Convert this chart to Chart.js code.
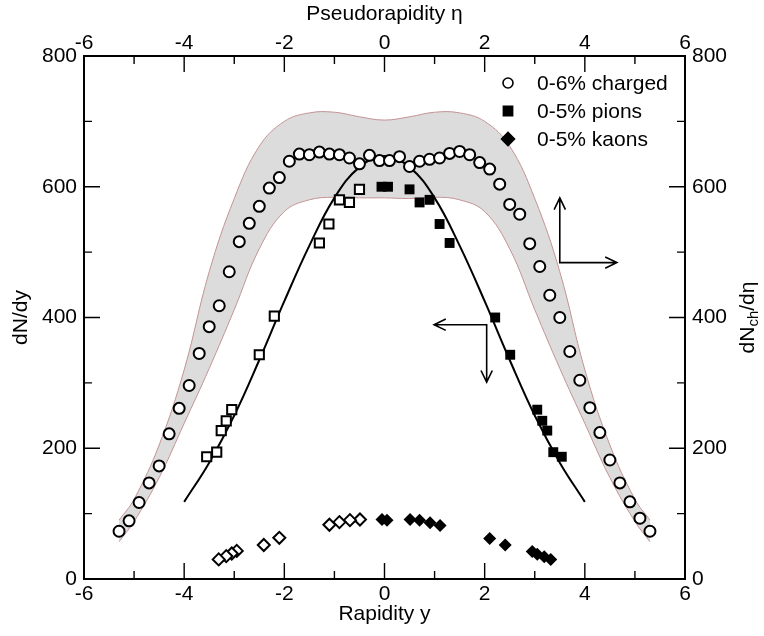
<!DOCTYPE html>
<html>
<head>
<meta charset="utf-8">
<script src="https://cdn.jsdelivr.net/npm/chart.js@4/dist/chart.umd.min.js"></script>
<style>
  html, body { margin: 0; padding: 0; background: #fff; }
  #wrap { width: 764px; height: 636px; position: relative; }
</style>
</head>
<body>
<div id="wrap"><canvas id="c"></canvas></div>
<script>
// --- dados ---
// carregados (0-6%), em pseudorapidez eta
const chargedEta = [-5.3, -5.1, -4.9, -4.7, -4.5, -4.3, -4.1, -3.9, -3.7, -3.5, -3.3, -3.1, -2.9, -2.7, -2.5, -2.3, -2.1, -1.9, -1.7, -1.5, -1.3, -1.1, -0.9, -0.7, -0.5, -0.3, -0.1,
                    0.1, 0.3, 0.5, 0.7, 0.9, 1.1, 1.3, 1.5, 1.7, 1.9, 2.1, 2.3, 2.5, 2.7, 2.9, 3.1, 3.3, 3.5, 3.7, 3.9, 4.1, 4.3, 4.5, 4.7, 4.9, 5.1, 5.3];
const chargedVal = [73, 89, 117, 147, 173, 222, 261, 296, 345, 386, 418, 470, 516, 544, 570, 598, 614, 639, 650, 649, 653, 650, 649, 644, 635, 648, 640,
                    640, 646, 631, 639, 642, 644, 651, 654, 649, 637, 627, 604, 573, 558, 513, 478, 434, 400, 348, 304, 262, 224, 182, 147, 118, 93, 73];

// faixa de incerteza (cinza)
const bandEta   = [-5.3, -5, -4.5, -4, -3.5, -3, -2.5, -2, -1.5, -1, -0.5, 0, 0.5, 1, 1.5, 2, 2.5, 3, 3.5, 4, 4.5, 5, 5.3];
const bandUpper = [90, 122, 205, 320, 470, 582, 662, 700, 713, 714, 707, 702, 707, 714, 713, 700, 662, 582, 470, 320, 205, 122, 90];
const bandLower = [57, 88, 155, 238, 322, 412, 505, 562, 580, 584, 583, 583, 582, 584, 580, 562, 505, 412, 322, 238, 155, 88, 57];

// píons 0-5% (cheios = medidos, vazios = refletidos)
const pionY      = [-0.06, 0.07, 0.5, 0.7, 0.9, 1.1, 1.3, 2.21, 2.51, 3.05, 3.15, 3.25, 3.37, 3.54];
const pionVal    = [600, 600, 596, 576, 580, 543, 514, 400, 343, 259, 242, 227, 194, 187];
const pionRefY   = [-0.5, -0.7, -0.9, -1.11, -1.3, -2.2, -2.5, -3.05, -3.16, -3.26, -3.35, -3.55];
const pionRefVal = [596, 576, 580, 543, 514, 402, 343, 259, 242, 227, 194, 187];

// káons 0-5%
const kaonY      = [-0.05, 0.05, 0.51, 0.7, 0.91, 1.11, 2.1, 2.41, 2.95, 3.05, 3.19, 3.32];
const kaonVal    = [91, 90, 91, 90, 86, 82, 62, 52, 42, 38, 34, 30];
const kaonRefY   = [-0.49, -0.69, -0.9, -1.1, -2.1, -2.41, -2.95, -3.05, -3.16, -3.31];
const kaonRefVal = [91, 90, 87, 83, 63, 52, 43, 39, 35, 30];

// ajuste gaussiano (linha preta)
const fitY   = [-4, -3.5, -3, -2.5, -2, -1.5, -1, -0.5, 0, 0.5, 1, 1.5, 2, 2.5, 3, 3.5, 4];
const fitVal = [118, 178, 250, 335, 425, 510, 583, 630, 647, 630, 583, 510, 425, 335, 250, 178, 118];

// eixos
const xMajor = [-6, -4, -2, 0, 2, 4, 6];
const xMinor = [-5, -3, -1, 1, 3, 5];
const yMajor = [0, 200, 400, 600, 800];
const yMinor = [100, 300, 500, 700];

// setas indicando qual eixo vale pra cada curva (coordenadas de dados)
const arrowRightAxis = [[3.5, 583], [3.5, 484], [4.64, 484]];
const arrowLeftAxis  = [[0.99, 389], [2.04, 389], [2.04, 301]];

const FONT = "'Liberation Sans', Arial, sans-serif";
const FS = 21;

function pts(xs, ys) { return xs.map((x, i) => ({ x, y: ys[i] })); }

// ticks pra dentro nos quatro lados
const insideTicks = {
  id: "insideTicks",
  afterDraw(chart) {
    const { ctx, chartArea: a, scales } = chart;
    ctx.save();
    ctx.strokeStyle = "#000";
    ctx.lineWidth = 1.4;
    ctx.beginPath();
    const tx = (vals, len) => vals.forEach(v => {
      const px = scales.x.getPixelForValue(v);
      ctx.moveTo(px, a.bottom); ctx.lineTo(px, a.bottom - len);
      ctx.moveTo(px, a.top); ctx.lineTo(px, a.top + len);
    });
    const ty = (vals, len) => vals.forEach(v => {
      const py = scales.y.getPixelForValue(v);
      ctx.moveTo(a.left, py); ctx.lineTo(a.left + len, py);
      ctx.moveTo(a.right, py); ctx.lineTo(a.right - len, py);
    });
    tx(xMajor, 16); tx(xMinor, 8);
    ty(yMajor, 16); ty(yMinor, 8);
    ctx.stroke();
    ctx.restore();
  }
};

// setas, legenda e título do eixo direito (com subscrito)
const extras = {
  id: "extras",
  afterDatasetsDraw(chart) {
    const { ctx, scales } = chart;
    const sx = scales.x, sy = scales.y;
    ctx.save();
    ctx.strokeStyle = "#000";
    ctx.lineWidth = 1.6;
    function head(x0, y0, x1, y1) {
      const ang = Math.atan2(y1 - y0, x1 - x0);
      const L = 13, w = 0.45;
      ctx.moveTo(x1 - L * Math.cos(ang - w), y1 - L * Math.sin(ang - w));
      ctx.lineTo(x1, y1);
      ctx.lineTo(x1 - L * Math.cos(ang + w), y1 - L * Math.sin(ang + w));
    }
    [arrowRightAxis, arrowLeftAxis].forEach(arr => {
      const p = arr.map(([x, y]) => [sx.getPixelForValue(x), sy.getPixelForValue(y)]);
      ctx.beginPath();
      ctx.moveTo(p[0][0], p[0][1]);
      p.slice(1).forEach(q => ctx.lineTo(q[0], q[1]));
      head(p[1][0], p[1][1], p[0][0], p[0][1]);
      head(p[1][0], p[1][1], p[2][0], p[2][1]);
      ctx.stroke();
    });
    ctx.restore();

    // legenda
    const rows = [
      { label: "0-6% charged", style: "circle", fill: "#fff", r: 5 },
      { label: "0-5% pions", style: "rect", fill: "#000", r: 6.5 },
      { label: "0-5% kaons", style: "rectRot", fill: "#000", r: 6.5 },
    ];
    ctx.save();
    ctx.font = FS + "px " + FONT;
    ctx.textBaseline = "middle";
    ctx.fillStyle = "#000";
    rows.forEach((r, i) => {
      const y = 83 + i * 28;
      ctx.fillStyle = r.fill;
      ctx.strokeStyle = "#000";
      ctx.lineWidth = 1.6;
      Chart.helpers.drawPoint(ctx, { pointStyle: r.style, radius: r.r, rotation: 0, borderWidth: 1.6 }, 508, y);
      ctx.fillStyle = "#000";
      ctx.fillText(r.label, 537, y + 1);
    });
    ctx.restore();
  },
  afterDraw(chart) {
    const { ctx, chartArea: a } = chart;
    ctx.save();
    const cy = (a.top + a.bottom) / 2;
    ctx.translate(748, cy);
    ctx.rotate(-Math.PI / 2);
    ctx.fillStyle = "#000";
    ctx.textBaseline = "middle";
    const big = FS + "px " + FONT, small = Math.round(FS * 0.7) + "px " + FONT;
    ctx.font = big; const w1 = ctx.measureText("dN").width, w3 = ctx.measureText("/dη").width;
    ctx.font = small; const w2 = ctx.measureText("ch").width;
    let x = -(w1 + w2 + w3) / 2;
    ctx.font = big; ctx.fillText("dN", x, 0); x += w1;
    ctx.font = small; ctx.fillText("ch", x, 6); x += w2;
    ctx.font = big; ctx.fillText("/dη", x, 0);
    ctx.restore();
  }
};

const tickFont = { family: FONT, size: FS };
function axisBase() {
  return {
    type: "linear",
    grid: { display: false, drawTicks: false },
    border: { display: true, color: "#000", width: 2 },
  };
}

new Chart(document.getElementById("c"), {
  type: "line",
  data: {
    datasets: [
      {
        label: "band upper", data: pts(bandEta, bandUpper), xAxisID: "x2", yAxisID: "y2",
        borderColor: "#c49393", borderWidth: 1, backgroundColor: "#dcdcdc",
        pointRadius: 0, tension: 0.4, fill: "+1", order: 10,
      },
      {
        label: "band lower", data: pts(bandEta, bandLower), xAxisID: "x2", yAxisID: "y2",
        borderColor: "#c49393", borderWidth: 1, pointRadius: 0, tension: 0.4, fill: false, order: 9,
      },
      {
        label: "fit", data: pts(fitY, fitVal), borderColor: "#000", borderWidth: 2,
        pointRadius: 0, tension: 0.4, fill: false, order: 5,
      },
      {
        label: "0-5% pions", data: pts(pionY, pionVal), showLine: false,
        pointStyle: "rect", pointRadius: 7, backgroundColor: "#000", borderColor: "#000", borderWidth: 0, order: 3,
      },
      {
        label: "pions reflected", data: pts(pionRefY, pionRefVal), showLine: false,
        pointStyle: "rect", pointRadius: 6.5, backgroundColor: "#fff", borderColor: "#000", borderWidth: 2, order: 3,
      },
      {
        label: "0-5% kaons", data: pts(kaonY, kaonVal), showLine: false,
        pointStyle: "rectRot", pointRadius: 6.5, backgroundColor: "#000", borderColor: "#000", borderWidth: 0, order: 3,
      },
      {
        label: "kaons reflected", data: pts(kaonRefY, kaonRefVal), showLine: false,
        pointStyle: "rectRot", pointRadius: 6, backgroundColor: "#fff", borderColor: "#000", borderWidth: 2, order: 3,
      },
      {
        label: "0-6% charged", data: pts(chargedEta, chargedVal), xAxisID: "x2", yAxisID: "y2", showLine: false,
        pointStyle: "circle", pointRadius: 5.5, backgroundColor: "#fff", borderColor: "#000", borderWidth: 2, order: 1,
      },
    ],
  },
  options: {
    responsive: true,
    maintainAspectRatio: false,
    animation: false,
    layout: { padding: 0 },
    plugins: { legend: { display: false }, tooltip: { enabled: false } },
    scales: {
      x: {
        ...axisBase(), position: "bottom", min: -6, max: 6,
        ticks: { stepSize: 2, color: "#000", font: tickFont, padding: 3, maxRotation: 0 },
        title: { display: true, text: "Rapidity y", color: "#000", font: tickFont, padding: { top: 0, bottom: 9 } },
        afterFit(s) { s.height = 57; },
      },
      x2: {
        ...axisBase(), position: "top", min: -6, max: 6,
        ticks: { stepSize: 2, color: "#000", font: tickFont, padding: 0, maxRotation: 0 },
        title: { display: true, text: "Pseudorapidity η", color: "#000", font: tickFont, padding: { top: 2, bottom: 0 } },
        afterFit(s) { s.height = 56; },
      },
      y: {
        ...axisBase(), position: "left", min: 0, max: 800,
        ticks: { stepSize: 200, color: "#000", font: tickFont, padding: 7 },
        title: { display: true, text: "dN/dy", color: "#000", font: tickFont, padding: { top: 9, bottom: 0 } },
        afterFit(s) { s.width = 84; },
      },
      y2: {
        ...axisBase(), position: "right", min: 0, max: 800,
        ticks: { stepSize: 200, color: "#000", font: tickFont, padding: 7 },
        title: { display: false },
        afterFit(s) { s.width = 79; },
      },
    },
  },
  plugins: [insideTicks, extras],
});
</script>
</body>
</html>
